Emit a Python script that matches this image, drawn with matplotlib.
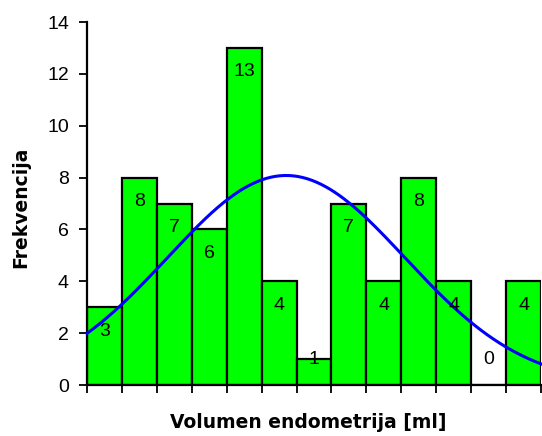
import numpy as np
import matplotlib
matplotlib.use("Agg")
import matplotlib.pyplot as plt

# histogram counts per class (13 classes)
counts = [3, 8, 7, 6, 13, 4, 1, 7, 4, 8, 4, 0, 4]
yticks = [0, 2, 4, 6, 8, 10, 12, 14]
xlabel = "Volumen endometrija [ml]"
ylabel = "Frekvencija"

plt.rcParams['font.family'] = ['Liberation Sans', 'DejaVu Sans']

n = len(counts)
edges = np.arange(n + 1)
centers = edges[:-1] + 0.5

fig = plt.figure(figsize=(5.42, 4.36), dpi=100)
ax = fig.add_axes([87 / 542, 1 - 385 / 436, 454 / 542, 363 / 436])

ax.bar(centers, counts, width=1.0, color="#00ff00", edgecolor="black", linewidth=1.6)

# fitted normal curve from the histogram
c = np.array(counts, dtype=float)
N = c.sum()
mu = (c * centers).sum() / N
sd = np.sqrt((c * (centers - mu) ** 2).sum() / (N - 1))
xs = np.linspace(0, n, 300)
ys = N / (sd * np.sqrt(2 * np.pi)) * np.exp(-(xs - mu) ** 2 / (2 * sd ** 2))
ax.plot(xs, ys, color="#0000ff", linewidth=2.2, clip_on=False, zorder=5)

for x, v in zip(centers, counts):
    ax.text(x, max(v - 0.92, 1.0), str(v), ha="center", va="center", fontsize=14, color="black", zorder=6)

ax.set_xlim(0, n)
ax.set_ylim(0, 14)
ax.set_yticks(yticks)
ax.set_xticks(edges)
ax.set_xticklabels([])
ax.tick_params(axis="y", direction="out", length=6, width=1.3, labelsize=14, pad=7)
ax.tick_params(axis="x", direction="out", length=6, width=1.3)
for s in ["top", "right"]:
    ax.spines[s].set_visible(False)
for s in ["left", "bottom"]:
    ax.spines[s].set_linewidth(1.6)

ax.set_xlabel(xlabel, fontsize=13.5, fontweight="bold", family="DejaVu Sans", va="center")
ax.set_ylabel(ylabel, fontsize=13.5, fontweight="bold", family="DejaVu Sans", va="center")
ax.xaxis.set_label_coords(0.487, -0.104)
ax.yaxis.set_label_coords(-0.145, 0.49)

fig.savefig("out.png", dpi=100)
